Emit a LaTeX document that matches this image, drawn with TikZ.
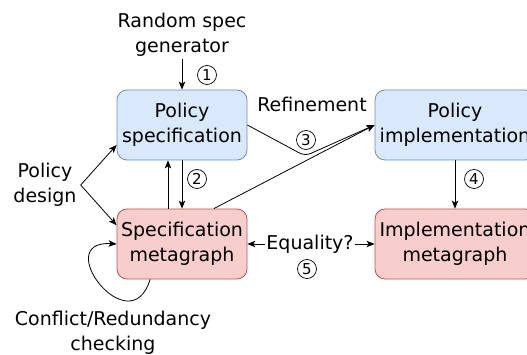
\documentclass[tikz,border=0pt]{standalone}
\usepackage{fontspec}
\setmainfont{DejaVu Sans}
\usepackage{tikz}
\usetikzlibrary{calc}
\usetikzlibrary{arrows.meta, shapes, positioning}
\definecolor{specfill}{HTML}{DAE8FC}
\definecolor{specline}{HTML}{6C8EBF}
\definecolor{metafill}{HTML}{F8CECC}
\definecolor{metaline}{HTML}{B85450}

\begin{document}
\begin{tikzpicture}[x=1pt, y=-1pt, font=\fontsize{19}{24.5}\selectfont]
 \tikzstyle{bluebox}=[rectangle, rounded corners=10pt, draw=specline, fill=specfill, line width=0.8pt, minimum height=70pt, align=center, inner sep=2pt]
 \tikzstyle{redbox}=[rectangle, rounded corners=10pt, draw=metaline, fill=metafill, line width=0.8pt, minimum height=70pt, align=center, inner sep=2pt]
 \tikzstyle{txt}=[align=center, inner sep=2pt]
 \tikzstyle{num}=[circle, draw, line width=0.7pt, minimum size=19pt, inner sep=0pt, font=\fontsize{15}{15}\selectfont]
 \tikzstyle{line} = [draw, line width=0.8pt, -{Stealth[length=8pt, width=6.5pt, inset=2pt]}]

 \useasboundingbox (0,0) rectangle (527,355);
 \clip (0,0) rectangle (527,355);

 % boxes
 \draw (182, 125) node[bluebox, minimum width=130pt] (spec) {Policy\\specification};
 \draw (182, 244) node[redbox, minimum width=130pt] (meta) {Specification\\metagraph};
 \draw (455, 125) node[bluebox, minimum width=160pt] (impl) {Policy\\implementation};
 \draw (455, 244) node[redbox, minimum width=160pt] (implmeta) {Implementation\\metagraph};

 % free texts
 \draw (182, 35) node[txt] (gen) {Random spec\\generator};
 \draw (45, 185) node[txt, inner sep=4pt] (design) {Policy\\design};
 \draw (312, 104) node[txt] (refine) {Refinement};
 \draw (310, 244) node[txt, inner sep=1pt] (eq) {Equality?};
 \draw (113, 333) node[txt] (check) {Conflict/Redundancy\\checking};

 % step numbers
 \draw (207, 75) node[num] (n1) {1};
 \draw (197, 179) node[num] (n2) {2};
 \draw (306, 140) node[num] (n3) {3};
 \draw (474, 179) node[num] (n4) {4};
 \draw (307, 269) node[num] (n5) {5};

 \coordinate (bend) at (305, 156);

 \path [line] (gen) -- (spec);
 \path [line] (design.east) -- (spec.197);
 \path [line] (design.east) -- (meta.164);
 \path [line] ($(meta.north)+(-14,0)$) -- ($(spec.south)+(-14,0)$);
 \path [line] (spec.south) -- (meta.north);
 \path [line, rounded corners=6pt] (spec.east) -- (bend) -- (impl.west);
 \path [line] (meta.48) -- (impl.west);
 \path [line] (impl) -- (implmeta);
 \path [line] (eq.west) -- (meta.east);
 \path [line] (eq.east) -- (implmeta.west);
 \path [line] (meta.228) .. controls (130, 345) and (50, 240) .. (meta.west);

\end{tikzpicture}
\end{document}
